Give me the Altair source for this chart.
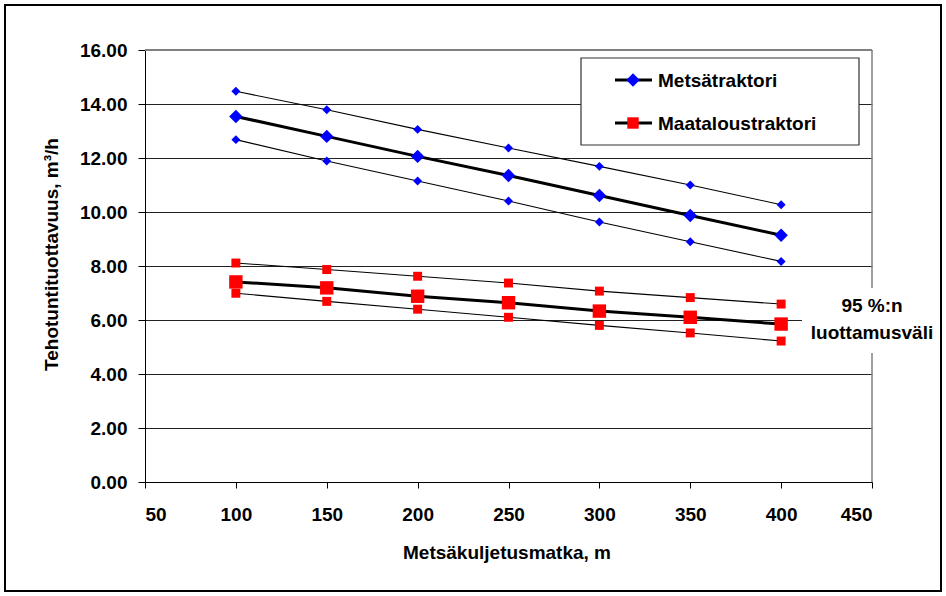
import altair as alt
import pandas as pd

# Hauling distance (m) and hourly productivity (m³/h) with 95 % confidence bounds
distance = [100, 150, 200, 250, 300, 350, 400]

metsa_mean = [13.54, 12.80, 12.06, 11.35, 10.61, 9.87, 9.14]
metsa_upper = [14.47, 13.79, 13.06, 12.37, 11.69, 11.00, 10.27]
metsa_lower = [12.68, 11.89, 11.15, 10.41, 9.63, 8.90, 8.17]

maatalous_mean = [7.41, 7.19, 6.88, 6.64, 6.33, 6.10, 5.85]
maatalous_upper = [8.11, 7.87, 7.62, 7.37, 7.07, 6.83, 6.59]
maatalous_lower = [6.99, 6.69, 6.40, 6.10, 5.80, 5.52, 5.22]

machines = ["Metsätraktori", "Maataloustraktori"]
machine_colors = ["#0000FF", "#FF0000"]
machine_shapes = ["diamond", "square"]
kinds = ["keskiarvo", "yläraja", "alaraja"]

x_ticks = [50, 100, 150, 200, 250, 300, 350, 400, 450]
y_ticks = [0, 2, 4, 6, 8, 10, 12, 14, 16]

x_title = "Metsäkuljetusmatka, m"
y_title = "Tehotuntituottavuus, m³/h"
note_lines = ["95 %:n", "luottamusväli"]

FONT = "Liberation Sans"
FS = 19

series = {
    ("Metsätraktori", "keskiarvo"): metsa_mean,
    ("Metsätraktori", "yläraja"): metsa_upper,
    ("Metsätraktori", "alaraja"): metsa_lower,
    ("Maataloustraktori", "keskiarvo"): maatalous_mean,
    ("Maataloustraktori", "yläraja"): maatalous_upper,
    ("Maataloustraktori", "alaraja"): maatalous_lower,
}
rows = []
for (machine, kind), values in series.items():
    for d, v in zip(distance, values):
        rows.append({"kone": machine, "tyyppi": kind, "sarja": f"{machine} {kind}",
                     "matka": d, "tuottavuus": v})
df = pd.DataFrame(rows)

W, H = 727, 432
x_scale = alt.Scale(domain=[x_ticks[0], x_ticks[-1]], nice=False, zero=False)
y_scale = alt.Scale(domain=[y_ticks[0], y_ticks[-1]], nice=False)

x_enc = alt.X("matka:Q", scale=x_scale, title=x_title,
              axis=alt.Axis(values=x_ticks, format="d", grid=False,
                            domainColor="black", tickColor="black", tickSize=6,
                            labelPadding=17, labelFont=FONT, labelFontSize=FS,
                            labelFontWeight="bold", labelColor="black",
                            titleFont=FONT, titleFontSize=FS, titleFontWeight="bold",
                            titleColor="black", titleBaseline="alphabetic",
                            titleY=76, titleX=W / 2 - 2))
y_enc = alt.Y("tuottavuus:Q", scale=y_scale, title=y_title,
              axis=alt.Axis(values=y_ticks, format=".2f", grid=True,
                            gridColor="#222222", gridWidth=1,
                            domainColor="black", tickColor="black", tickSize=7,
                            labelPadding=11, labelFont=FONT, labelFontSize=FS,
                            labelFontWeight="bold", labelColor="black",
                            titleFont=FONT, titleFontSize=FS, titleFontWeight="bold",
                            titleColor="black", titleAngle=-90,
                            titleBaseline="alphabetic", titleAlign="center",
                            titleX=-88, titleY=204))

base = alt.Chart(df)

# plot-area frame on top and right
frame_top = alt.Chart(pd.DataFrame({"y": [y_ticks[-1]]})).mark_rule(
    color="#808080", strokeWidth=2).encode(y=alt.Y("y:Q", scale=y_scale))
frame_right = alt.Chart(pd.DataFrame({"x": [x_ticks[-1]]})).mark_rule(
    color="#808080", strokeWidth=1.5).encode(x=alt.X("x:Q", scale=x_scale))

lines = base.mark_line(color="black").encode(
    x=x_enc, y=y_enc, detail="sarja:N",
    strokeWidth=alt.StrokeWidth("tyyppi:N",
                                scale=alt.Scale(type="ordinal", domain=kinds, range=[3, 1.1, 1.1]),
                                legend=None),
)

points = base.mark_point(filled=True, opacity=1).encode(
    x="matka:Q", y="tuottavuus:Q",
    color=alt.Color("kone:N", scale=alt.Scale(domain=machines, range=machine_colors), legend=None),
    shape=alt.Shape("kone:N", scale=alt.Scale(domain=machines, range=machine_shapes), legend=None),
    size=alt.Size("tyyppi:N",
                  scale=alt.Scale(type="ordinal", domain=kinds, range=[180, 80, 80]),
                  legend=None),
)

one = pd.DataFrame({"a": [0]})

# hand-drawn legend box
legend_box = alt.Chart(one).mark_rect(fill="white", stroke="#333333", strokeWidth=1.2).encode(
    x=alt.value(436), x2=alt.value(714), y=alt.value(8), y2=alt.value(95))
legend_layers = [legend_box]
for i, (name, col, shp) in enumerate(zip(machines, machine_colors, machine_shapes)):
    yy = 30 + 43 * i
    src = alt.Chart(pd.DataFrame({"kone": [name]}))
    legend_layers.append(src.mark_rule(color="black", strokeWidth=3).encode(
        x=alt.value(470), x2=alt.value(507), y=alt.value(yy)))
    legend_layers.append(src.mark_point(filled=True, opacity=1, color=col, shape=shp,
                                        size=180 if shp == "diamond" else 130).encode(
        x=alt.value(488), y=alt.value(yy)))
    legend_layers.append(src.mark_text(align="left", baseline="middle", font=FONT,
                                       fontSize=FS, fontWeight="bold", color="black").encode(
        x=alt.value(513), y=alt.value(yy + 1), text="kone:N"))

# confidence-interval note with white backing
note_box = alt.Chart(one).mark_rect(fill="white").encode(
    x=alt.value(657), x2=alt.value(795), y=alt.value(238), y2=alt.value(303))
note = alt.Chart(one).mark_text(align="center", baseline="middle", font=FONT,
                                fontSize=FS, fontWeight="bold", color="black",
                                lineHeight=27).encode(
    x=alt.value(727), y=alt.value(256), text=alt.value(note_lines))

# outer chart border
border = alt.Chart(one).mark_rect(fill=None, stroke="black", strokeWidth=2).encode(
    x=alt.value(-140), x2=alt.value(796), y=alt.value(-45), y2=alt.value(541))

chart = alt.layer(
    frame_top, frame_right, lines, points, *legend_layers, note_box, note, border
).properties(
    width=W, height=H,
    autosize=alt.AutoSizeParams(type="none"),
    padding={"left": 145, "top": 50, "right": 74, "bottom": 114},
    background="white",
).configure_view(stroke=None)

chart.save("out.html", embed_options={"renderer": "svg", "actions": False})
